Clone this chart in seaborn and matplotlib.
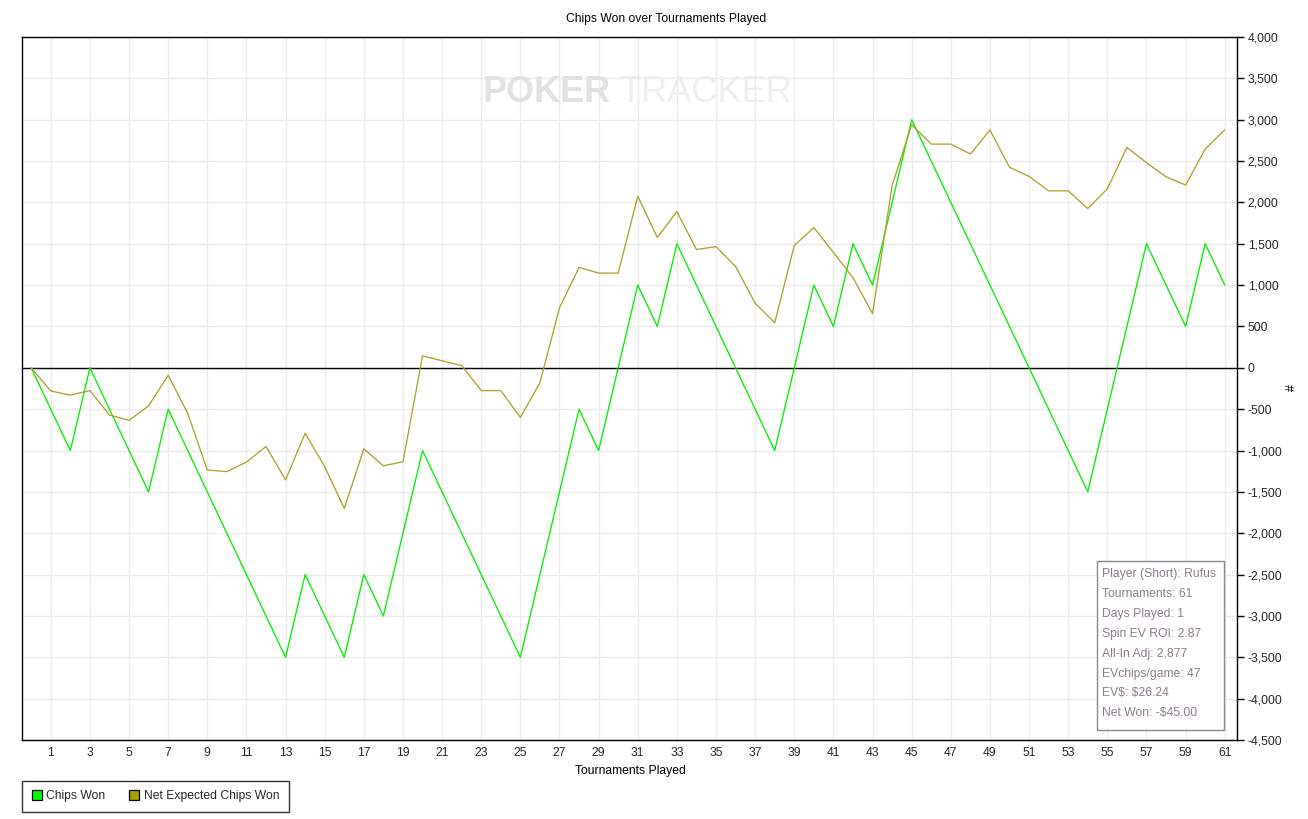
import matplotlib
matplotlib.use("Agg")
import matplotlib.pyplot as plt
from matplotlib.lines import Line2D
from matplotlib.patches import Rectangle
from matplotlib.ticker import FuncFormatter
import seaborn as sns
import pandas as pd

# ---------------- data ----------------
tournaments = list(range(0, 62))
chips_won = [0, -500, -1000, 0, -500, -1000, -1500, -500, -1000, -1500,
             -2000, -2500, -3000, -3500, -2500, -3000, -3500, -2500, -3000, -2000,
             -1000, -1500, -2000, -2500, -3000, -3500, -2500, -1500, -500, -1000,
             0, 1000, 500, 1500, 1000, 500, 0, -500, -1000, 0,
             1000, 500, 1500, 1000, 2000, 3000, 2500, 2000, 1500, 1000,
             500, 0, -500, -1000, -1500, -500, 500, 1500, 1000, 500,
             1500, 1000]
net_expected = [0, -280, -330, -275, -570, -635, -460, -90, -550, -1235,
                -1255, -1140, -950, -1355, -790, -1195, -1700, -980, -1185, -1135,
                145, 85, 28, -275, -275, -600, -180, 725, 1215, 1145,
                1145, 2075, 1575, 1890, 1430, 1465, 1225, 780, 545, 1480,
                1695, 1395, 1090, 655, 2205, 2940, 2705, 2705, 2585, 2875,
                2425, 2315, 2140, 2140, 1925, 2165, 2665, 2480, 2310, 2210,
                2645, 2877]
series_names = ["Chips Won", "Net Expected Chips Won"]
x_ticks = list(range(1, 62, 2))
y_ticks = list(range(-4500, 4001, 500))
info_lines = ["Player (Short): Rufus", "Tournaments: 61", "Days Played: 1",
              "Spin EV ROI: 2.87", "All-In Adj: 2,877", "EVchips/game: 47",
              "EV\\$: \\$26.24", "Net Won: -\\$45.00"]
title = "Chips Won over Tournaments Played"
x_label = "Tournaments Played"
y_label = "#"
watermark = ["POKER", "TRACKER"]

# ---------------- style ----------------
sns.set_style("white")
plt.rcParams['font.family'] = ['Liberation Sans', 'DejaVu Sans']
plt.rcParams['font.size'] = 8.7

colors = {"Chips Won": "#00f000", "Net Expected Chips Won": "#aea22a"}
legend_colors = {"Chips Won": "#00ff00", "Net Expected Chips Won": "#a8a000"}

W, H = 1308, 819
fig = plt.figure(figsize=(W / 100, H / 100), dpi=100)
fig.patch.set_facecolor("white")

def fx(px):
    return px / W

def fy(py):
    return 1 - py / H

ax = fig.add_axes([fx(22), fy(740), fx(1236.5) - fx(22), fy(37) - fy(740)])

df = pd.DataFrame({
    "Tournament": tournaments * 2,
    "Value": chips_won + net_expected,
    "Series": [series_names[0]] * len(tournaments) + [series_names[1]] * len(tournaments),
})

sns.lineplot(data=df, x="Tournament", y="Value", hue="Series", palette=colors,
             linewidth=0.95, ax=ax, legend=False, zorder=3)

ax.axhline(0, color="black", linewidth=1.0, zorder=2)

ax.set_xlim(-0.47, 61.6)
ax.set_ylim(-4500, 4000)
ax.set_xticks(x_ticks)
ax.set_yticks(y_ticks)
ax.yaxis.tick_right()
ax.yaxis.set_major_formatter(FuncFormatter(lambda v, p: f"{int(v):,}"))
ax.tick_params(axis="y", which="both", direction="out", length=5, width=1,
               color="black", pad=3, labelsize=8.7, left=False, right=True,
               labelleft=False, labelright=True)
ax.tick_params(axis="x", direction="out", length=2, width=1, color="black",
               pad=3, labelsize=8.7)
ax.grid(True, color="#ebebeb", linewidth=1.0, zorder=0)
ax.set_axisbelow(True)
for s in ax.spines.values():
    s.set_color("black")
    s.set_linewidth(1.0)
ax.set_xlabel("")
ax.set_ylabel("")

# titles / labels
fig.text(fx(666), fy(19), title, ha="center", va="center", fontsize=8.7, color="black")
fig.text(fx(630), fy(771), x_label, ha="center", va="center", fontsize=8.7, color="black")
fig.text(fx(1292), fy(388), y_label, ha="center", va="center", fontsize=8.7,
         color="black", rotation=90)

# watermark
fig.text(fx(483), fy(101.7), watermark[0], ha="left", va="baseline", fontsize=26,
         fontweight="bold", color="#e2e2e2", zorder=1)
fig.text(fx(619), fy(101.7), watermark[1], ha="left", va="baseline", fontsize=26,
         color="#eeeeee", zorder=1)

# info box
box = Rectangle((fx(1097), fy(730)), fx(1224) - fx(1097), fy(561) - fy(730),
                transform=fig.transFigure, facecolor="white", edgecolor="#8a8a8a",
                linewidth=1.0, zorder=10)
fig.patches.append(box)
for i, line in enumerate(info_lines):
    fig.text(fx(1102), fy(574 + i * 19.9), line, ha="left", va="center",
             fontsize=8.7, color="#8c7d8c", zorder=11)

# legend
handles = [Line2D([0], [0], marker="s", linestyle="none", markersize=7,
                  markerfacecolor=legend_colors[n], markeredgecolor="black",
                  markeredgewidth=0.9, label=n) for n in series_names]
leg = fig.legend(handles=handles, loc="lower left",
                 bbox_to_anchor=(fx(22), fy(812), fx(289) - fx(22), fy(781) - fy(812)),
                 mode="expand", ncol=2, frameon=True, fancybox=False,
                 handlelength=0.8, handletextpad=0.4, columnspacing=2.0,
                 borderpad=0.8, borderaxespad=0, fontsize=8.7)
leg.get_frame().set_edgecolor("black")
leg.get_frame().set_linewidth(1.0)

fig.savefig("out.png", dpi=100, facecolor="white")
